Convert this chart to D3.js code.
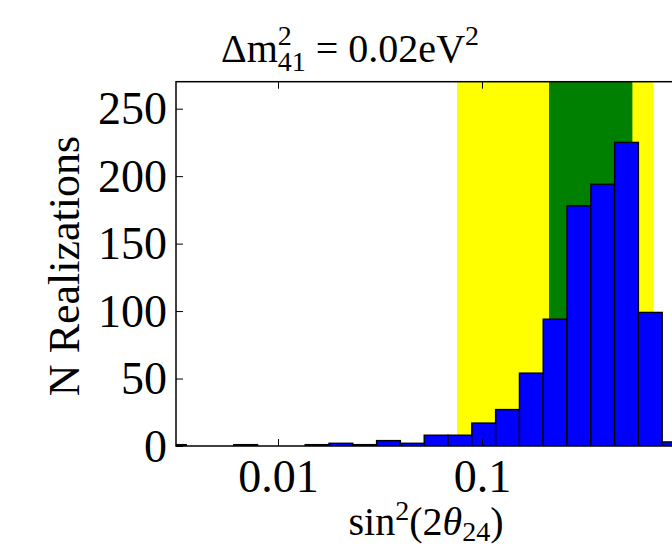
<!DOCTYPE html>
<html>
<head>
<meta charset="utf-8">
<script src="https://cdn.jsdelivr.net/npm/d3@7"></script>
<style>
  html, body { margin: 0; padding: 0; background: #fff; overflow: hidden; }
  svg { display: block; }
  text { font-family: "Liberation Serif", "DejaVu Serif", serif; fill: #000; }
</style>
</head>
<body>
<svg id="chart" width="672" height="548"></svg>
<script>
// ---- data ----
const binEdges = [0.002713, 0.003548, 0.004642, 0.006072, 0.007943, 0.01039, 0.01359, 0.01778,
                  0.02326, 0.03043, 0.03981, 0.05208, 0.06813, 0.08913, 0.1166, 0.1526,
                  0.1995, 0.2610, 0.3415, 0.4467, 0.5843, 0.7644, 1.0];
const binCounts = [1, 0, 0, 1, 0, 0, 1, 2, 1, 4, 2, 8, 8, 17, 27, 54, 94, 178, 194, 225, 99, 3];
const band2sigma = [0.0754, 0.692];
const band1sigma = [0.213, 0.546];
const xDomain = [Math.pow(10, -2.5), 1];
const yDomain = [0, 270];
const xTickValues = [0.01, 0.1];
const xTickLabels = ["0.01", "0.1"];
const yTickValues = [0, 50, 100, 150, 200, 250];
const yTickLabels = ["0", "50", "100", "150", "200", "250"];

// ---- layout ----
const svg = d3.select("#chart");
const L = 176, R = 686, T = 81.7, B = 446;
const x = d3.scaleLog().domain(xDomain).range([L, R]);
const y = d3.scaleLinear().domain(yDomain).range([B, T]);

svg.append("defs").append("clipPath").attr("id", "clip")
  .append("rect").attr("x", L).attr("y", T).attr("width", R - L).attr("height", B - T);

const plot = svg.append("g").attr("clip-path", "url(#clip)");

// bands
plot.append("rect")
  .attr("x", x(band2sigma[0])).attr("width", x(band2sigma[1]) - x(band2sigma[0]))
  .attr("y", T).attr("height", B - T).attr("fill", "#ffff00");
plot.append("rect")
  .attr("x", x(band1sigma[0])).attr("width", x(band1sigma[1]) - x(band1sigma[0]))
  .attr("y", T).attr("height", B - T).attr("fill", "#008000");

// bars
const bins = binCounts.map((c, i) => ({ lo: binEdges[i], hi: binEdges[i + 1], c }))
  .filter(d => d.c > 0);
plot.selectAll("rect.bar").data(bins).enter().append("rect")
  .attr("class", "bar")
  .attr("x", d => x(d.lo)).attr("width", d => x(d.hi) - x(d.lo))
  .attr("y", d => y(d.c)).attr("height", d => y(0) - y(d.c))
  .attr("fill", "#0000ff").attr("stroke", "#000").attr("stroke-width", 1.4);

// axes
const fontTick = 46;
const yAxis = d3.axisLeft(y).tickValues(yTickValues)
  .tickFormat((d, i) => yTickLabels[i]).tickSizeInner(-7).tickSizeOuter(0).tickPadding(9);
const gy = svg.append("g").attr("transform", `translate(${L},0)`).call(yAxis);
gy.select(".domain").remove();
gy.selectAll("line").attr("stroke", "#000").attr("stroke-width", 1);
gy.selectAll("text").attr("font-size", fontTick).attr("x", -9).attr("dy", "0.33em")
  .attr("font-family", "Liberation Serif");

const xAxis = d3.axisBottom(x).tickValues(xTickValues)
  .tickFormat((d, i) => xTickLabels[i]).tickSizeInner(-7).tickSizeOuter(0);
const gx = svg.append("g").attr("transform", `translate(0,${B})`).call(xAxis);
gx.select(".domain").remove();
gx.selectAll("line").attr("stroke", "#000").attr("stroke-width", 1);
gx.selectAll("text").attr("font-size", fontTick).attr("y", 46).attr("dy", 0)
  .attr("font-family", "Liberation Serif");

const xAxisTop = d3.axisTop(x).tickValues(xTickValues).tickFormat("").tickSizeInner(-7).tickSizeOuter(0);
const gxt = svg.append("g").attr("transform", `translate(0,${T})`).call(xAxisTop);
gxt.select(".domain").remove();
gxt.selectAll("line").attr("stroke", "#000").attr("stroke-width", 1);

// frame
svg.append("rect").attr("x", L).attr("y", T).attr("width", R - L).attr("height", B - T)
  .attr("fill", "none").attr("stroke", "#000").attr("stroke-width", 1.5);

// y label
svg.append("text")
  .attr("transform", `translate(79,266) rotate(-90)`)
  .attr("text-anchor", "middle").attr("font-size", 44)
  .text("N Realizations");

// x label
const xl = svg.append("text").attr("x", 426).attr("y", 535)
  .attr("text-anchor", "middle").attr("font-size", 40);
xl.append("tspan").text("sin");
xl.append("tspan").attr("font-size", 28).attr("dy", -15).text("2");
xl.append("tspan").attr("dy", 15).text("(2");
xl.append("tspan").attr("font-style", "italic").text("θ");
xl.append("tspan").attr("font-size", 28).attr("dy", 6).text("24");
xl.append("tspan").attr("dy", -6).text(")");

// title (superscript and subscript as separate pieces, stacked like LaTeX)
const tt = svg.append("text").attr("x", 350).attr("y", 62)
  .attr("text-anchor", "middle").attr("font-size", 40);
tt.append("tspan").text("Δm");
tt.append("tspan").attr("font-size", 28).attr("dy", -17).text("2");
tt.append("tspan").attr("font-size", 28).attr("dx", -14).attr("dy", 26).text("41");
tt.append("tspan").attr("dy", -9).text(" = 0.02eV");
tt.append("tspan").attr("font-size", 28).attr("dy", -17).text("2");
</script>
</body>
</html>
